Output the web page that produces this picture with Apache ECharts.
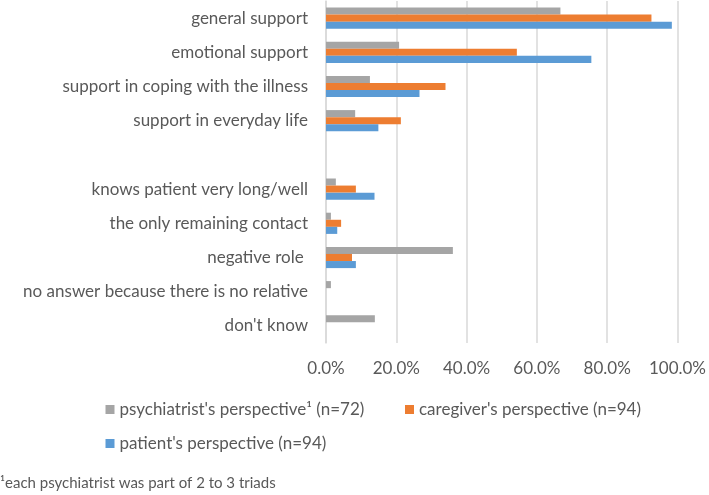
<!DOCTYPE html>
<html><head><meta charset="utf-8">
<script src="https://cdn.jsdelivr.net/npm/echarts@6/dist/echarts.min.js"></script>
<style>html,body{margin:0;padding:0;background:#fff}#c{width:709px;height:495px}</style>
</head><body><div id="c"></div>
<script>
const categories = ["general support","emotional support","support in coping with the illness","support in everyday life","","knows patient very long/well","the only remaining contact","negative role ","no answer because there is no relative","don't know"];
const psychiatrist = [66.7, 20.8, 12.5, 8.3, null, 2.8, 1.4, 36.1, 1.4, 13.9];
const caregiver = [92.6, 54.3, 34.0, 21.3, null, 8.5, 4.3, 7.4, 0, 0];
const patient = [98.4, 75.5, 26.6, 14.9, null, 13.8, 3.2, 8.5, 0, 0];
const seriesNames = ["psychiatrist's perspective\u00b9 (n=72)", "caregiver's perspective (n=94)", "patient's perspective (n=94)"];
const xTicks = [0, 20, 40, 60, 80, 100];
const footnote = "\u00b9each psychiatrist was part of 2 to 3 triads";

const FONT = 'Lato';
const TXT = '#595959';
const colors = ['#A5A5A5', '#ED7D31', '#5B9BD5'];
const chart = echarts.init(document.getElementById('c'));
const legendCommon = {
  orient: 'horizontal', itemWidth: 9, itemHeight: 9, itemGap: 0, icon: 'rect', padding: 0,
  textStyle: {color: TXT, fontFamily: FONT, fontSize: 17}
};
const legendPos = [[105.5, 401], [405, 401], [105.5, 435]];
chart.setOption({
  animation: false,
  color: colors,
  textStyle: {fontFamily: FONT},
  grid: {left: 326, right: 28.5, top: 1, bottom: 152, containLabel: false},
  legend: seriesNames.map((n, i) => Object.assign({}, legendCommon, {left: legendPos[i][0], top: legendPos[i][1], data: [n]})),
  graphic: [{type: 'text', left: 0, top: 476, style: {text: footnote, fill: TXT, font: '15px ' + FONT}}],
  xAxis: {
    type: 'value', min: xTicks[0], max: xTicks[xTicks.length-1], interval: 20,
    axisLine: {show: false}, axisTick: {show: false},
    splitLine: {lineStyle: {color: '#D9D9D9', width: 1.5}},
    axisLabel: {color: TXT, fontFamily: FONT, fontSize: 17, margin: 17, formatter: v => v.toFixed(1) + '%'}
  },
  yAxis: {
    type: 'category', data: categories, inverse: true,
    axisLine: {show: true, lineStyle: {color: '#D9D9D9', width: 1.5}}, axisTick: {show: false},
    axisLabel: {color: TXT, fontFamily: FONT, fontSize: 17, margin: 18}
  },
  series: [psychiatrist, caregiver, patient].map((d, i) => ({
    name: seriesNames[i], type: 'bar', data: d, barGap: '0%', barCategoryGap: '38%',
    itemStyle: {color: colors[i]}
  }))
});
</script></body></html>
